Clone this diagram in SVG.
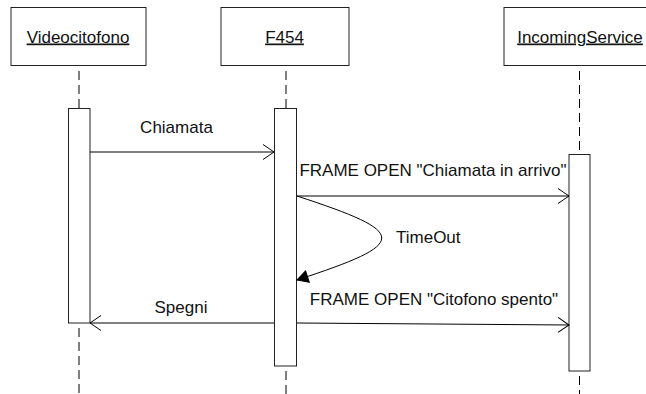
<svg xmlns="http://www.w3.org/2000/svg" width="646" height="394" viewBox="0 0 646 394">
<defs>
<style>
.box{fill:#fff;stroke:#222;stroke-width:1}
.act{fill:#fff;stroke:#222;stroke-width:1}
.life{stroke:#000;stroke-width:1;stroke-dasharray:9,5;fill:none}
.msg{stroke:#000;stroke-width:1;fill:none}
.t{font-family:"Liberation Sans",Arial,sans-serif;font-size:17px;fill:#111}
.name{text-anchor:middle;text-decoration:underline}
</style>
<marker id="open" markerUnits="userSpaceOnUse" viewBox="-12 -9 14 18" refX="0" refY="0" markerWidth="14" markerHeight="18" orient="auto">
<path d="M-11,-7.5 L0,0 L-11,7.5" fill="none" stroke="#000" stroke-width="1"/>
</marker>
<marker id="filled" markerUnits="userSpaceOnUse" viewBox="-12 -8 14 16" refX="0" refY="0" markerWidth="14" markerHeight="16" orient="auto">
<path d="M-11,-6 L0,0 L-11,6 Z" fill="#000" stroke="#000" stroke-width="1"/>
</marker>
</defs>
<rect width="646" height="394" fill="#fff"/>

<g id="lifelines">
<line class="life" x1="79" y1="71" x2="79" y2="108"/>
<line class="life" x1="79" y1="328" x2="79" y2="394"/>
<line class="life" x1="286" y1="71" x2="286" y2="108"/>
<line class="life" x1="286" y1="371" x2="286" y2="394"/>
<line class="life" x1="579.5" y1="71" x2="579.5" y2="154"/>
<line class="life" x1="579.5" y1="376" x2="579.5" y2="394"/>
</g>

<g id="Videocitofono">
<rect class="box" x="11" y="7.5" width="135" height="58"/>
<text class="t name" x="78" y="42.5">Videocitofono</text>
<rect class="act" x="68.5" y="108.5" width="21.5" height="214.5"/>
</g>

<g id="F454">
<rect class="box" x="221" y="7.5" width="128" height="58"/>
<text class="t name" x="284.5" y="42.5">F454</text>
<rect class="act" x="274.5" y="108.5" width="22" height="257.5"/>
</g>

<g id="IncomingService">
<rect class="box" x="504" y="7.5" width="152" height="58"/>
<text class="t name" x="580" y="42.5">IncomingService</text>
<rect class="act" x="569" y="154.5" width="21" height="216.5"/>
</g>

<g id="connectors">
<line class="msg" x1="90" y1="152" x2="274" y2="152" marker-end="url(#open)"/>
<line class="msg" x1="297" y1="196" x2="569" y2="196" marker-end="url(#open)"/>
<path class="msg" d="M297,196 C410,233 410,243 297,280" marker-end="url(#filled)"/>
<line class="msg" x1="274" y1="323" x2="90" y2="323" marker-end="url(#open)"/>
<line class="msg" x1="297" y1="323" x2="569" y2="325" marker-end="url(#open)"/>
</g>

<g id="labels">
<text class="t" x="176.5" y="133" text-anchor="middle">Chiamata</text>
<text class="t" x="433" y="176" text-anchor="middle">FRAME OPEN "Chiamata in arrivo"</text>
<text class="t" x="396" y="243">TimeOut</text>
<text class="t" x="181" y="312.5" text-anchor="middle">Spegni</text>
<text class="t" x="434" y="305" text-anchor="middle">FRAME OPEN "Citofono spento"</text>
</g>
</svg>
